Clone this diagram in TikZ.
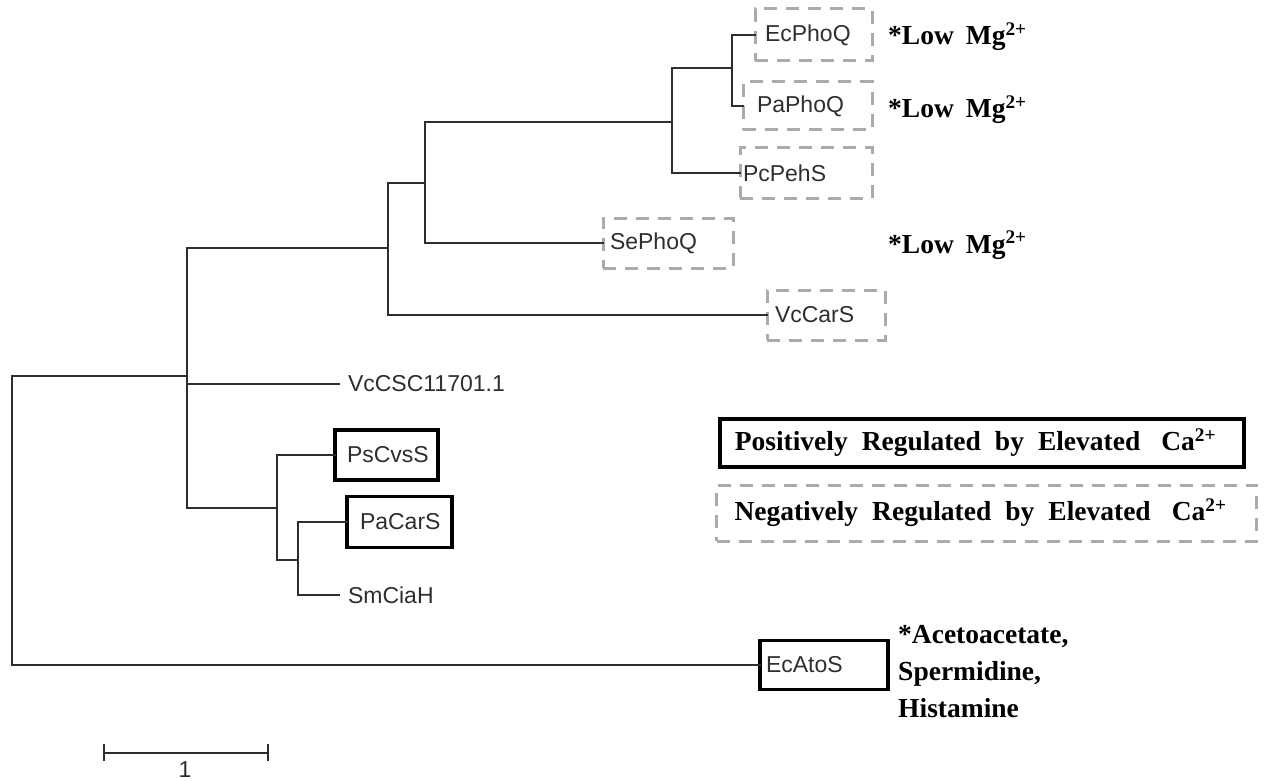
\documentclass[tikz,border=0pt]{standalone}
\usepackage{fontspec}
\setmainfont{Liberation Serif}
\setsansfont{Liberation Sans}
% label inside a leaf box: fixed box width, text pushed right by an offset
\newcommand\lbl[3]{\makebox[#1pt][l]{\hspace{#2pt}#3}}
\newcommand\wsp{\hspace{14pt}}
\begin{document}
\begin{tikzpicture}[x=1pt,y=-1pt,
  branch/.style={line width=1.7pt, draw=black!82, line cap=rect},
  leaf/.style={font=\sffamily\fontsize{23}{27}\selectfont, text=black!82,
    inner xsep=0pt, inner ysep=0pt, outer sep=0pt, anchor=west},
  negbox/.style={leaf, draw=black!33, line width=3pt, dash pattern=on 13pt off 9pt},
  posbox/.style={leaf, draw=black, line width=3.5pt},
  plainleaf/.style={leaf, inner xsep=9pt},
  note/.style={font=\bfseries\fontsize{27.5}{36}\selectfont, anchor=base west, inner sep=0pt},
  legpos/.style={note, anchor=west, draw=black, line width=3.5pt},
  legneg/.style={note, anchor=west, draw=black!33, line width=3pt, dash pattern=on 13pt off 9pt},
]
\useasboundingbox (0,0) rectangle (1266,781);

% internal nodes of the tree
\coordinate (r)  at (12,376);
\coordinate (n1) at (187,376);
\coordinate (n2) at (388,248);
\coordinate (n3) at (425,183);
\coordinate (n4) at (672,122);
\coordinate (n5) at (732,68);
\coordinate (n6) at (277,508);
\coordinate (n7) at (298,560);

% leaves
\node[negbox, minimum height=52pt] (ecphoq) at (755,35)  {\lbl{117}{10}{EcPhoQ}};
\node[negbox, minimum height=48pt] (paphoq) at (743,106) {\lbl{129}{14}{PaPhoQ}};
\node[negbox, minimum height=50pt] (pcpehs) at (740,173) {\lbl{132}{3}{PcPehS}};
\node[negbox, minimum height=50pt] (sephoq) at (603,243) {\lbl{130}{7}{SePhoQ}};
\node[negbox, minimum height=50pt] (vccars) at (767,315) {\lbl{118}{8}{VcCarS}};
\node[plainleaf] (vccsc) at (339,384) {VcCSC11701.1};
\node[posbox, minimum height=50pt] (pscvss) at (335,455) {\lbl{103}{12}{PsCvsS}};
\node[posbox, minimum height=51pt] (pacars) at (347,522) {\lbl{105}{13}{PaCarS}};
\node[plainleaf] (smciah) at (339,595) {SmCiaH};
\node[posbox, minimum height=49pt] (ecatos) at (760,665) {\lbl{128}{6}{EcAtoS}};

% branches
\draw[branch] (r) |- (n1);
\draw[branch] (r) |- (ecatos.west);
\draw[branch] (n1) |- (n2);
\draw[branch] (n1) |- (vccsc.west);
\draw[branch] (n1) |- (n6);
\draw[branch] (n2) |- (n3);
\draw[branch] (n2) |- (vccars.west);
\draw[branch] (n3) |- (n4);
\draw[branch] (n3) |- (sephoq.west);
\draw[branch] (n4) |- (n5);
\draw[branch] (n4) |- (pcpehs.west);
\draw[branch] (n5) |- (ecphoq.west);
\draw[branch] (n5) |- (paphoq.west);
\draw[branch] (n6) |- (pscvss.west);
\draw[branch] (n6) |- (n7);
\draw[branch] (n7) |- (pacars.west);
\draw[branch] (n7) |- (smciah.west);

% ligand annotations
\node[note] (mg1) at (888,45)  {*Low\hspace{12pt}Mg\textsuperscript{2+}};
\node[note] (mg2) at (888,118) {*Low\hspace{12pt}Mg\textsuperscript{2+}};
\node[note] (mg3) at (888,253) {*Low\hspace{12pt}Mg\textsuperscript{2+}};
\node[note] (ato1) at (898,643) {*Acetoacetate,};
\node[note] (ato2) at (898,680) {Spermidine,};
\node[note] (ato3) at (898,717) {Histamine};

% legend
\node[legpos, minimum height=48pt] (legp) at (718,443)
  {\makebox[524pt][l]{\hspace{15pt}Positively\wsp Regulated\wsp by\wsp Elevated\hspace{21pt}Ca\textsuperscript{2+}}};
\node[legneg, minimum height=56pt] (legn) at (715,513)
  {\makebox[540pt][l]{\hspace{18pt}Negatively\wsp Regulated\wsp by\wsp Elevated\hspace{21pt}Ca\textsuperscript{2+}}};

% scale bar
\coordinate (sb1) at (104,753);
\coordinate (sb2) at (268,753);
\draw[branch, line cap=butt] (sb1) -- (sb2);
\draw[branch, line cap=butt] ([yshift=-8pt]sb1) -- ([yshift=9pt]sb1);
\draw[branch, line cap=butt] ([yshift=-8pt]sb2) -- ([yshift=9pt]sb2);
\node[leaf, anchor=center] (sblabel) at (185,770) {1};
\end{tikzpicture}
\end{document}
